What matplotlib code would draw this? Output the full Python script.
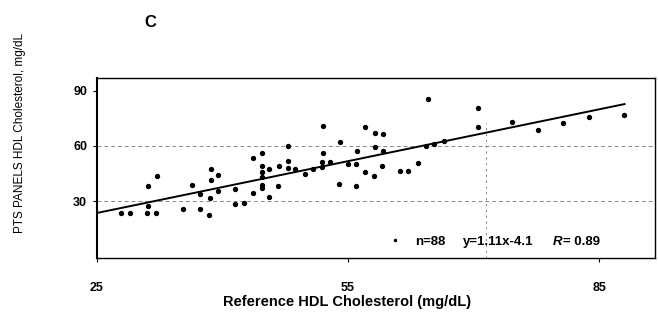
import matplotlib
matplotlib.use("Agg")
import matplotlib.pyplot as plt

plt.rcParams['font.family'] = ['Liberation Sans', 'DejaVu Sans']

# reference vs PTS PANELS HDL cholesterol (mg/dL)
ref_hdl = [27.9, 29.0, 31.1, 32.2, 31.1, 31.0, 32.1, 35.3, 36.4, 37.3,
           37.3, 38.4, 38.5, 38.6, 38.6, 39.5, 39.5, 41.5, 41.5, 42.6,
           43.6, 43.7, 44.7, 44.7, 44.7, 44.7, 44.7, 44.7, 45.6, 45.6,
           46.6, 46.8, 47.8, 47.8, 47.8, 48.7, 49.8, 50.8, 51.9, 51.9,
           52.0, 52.0, 52.9, 54.0, 53.9, 55.0, 56.0, 56.0, 56.1, 57.0,
           57.0, 58.2, 58.2, 58.1, 59.2, 59.2, 59.1, 61.2, 62.1, 63.3,
           64.3, 64.5, 65.3, 66.4, 70.5, 70.5, 74.6, 77.7, 80.7, 83.8,
           87.9]
pts_hdl = [23.6, 23.6, 38.3, 43.6, 27.4, 23.3, 23.6, 25.6, 38.7, 33.7,
           25.6, 22.4, 31.5, 41.5, 47.5, 44.3, 35.5, 36.5, 28.2, 28.7,
           34.2, 53.6, 49.3, 46.0, 43.3, 38.7, 36.9, 56.4, 47.5, 32.3,
           38.3, 49.1, 60.0, 51.8, 48.2, 47.5, 44.6, 47.5, 51.1, 48.7,
           70.9, 56.4, 51.1, 62.4, 39.3, 50.0, 50.0, 38.2, 57.4, 70.2,
           46.0, 66.9, 59.3, 43.8, 66.7, 57.4, 49.1, 46.4, 46.4, 50.6,
           60.0, 85.5, 60.9, 62.7, 80.9, 70.2, 72.9, 68.7, 72.7, 75.7,
           76.9]

# fitted line end points as drawn
fit_x = [25, 88.0]
fit_y = [23.5, 82.8]

x_ticks = [25, 55, 85]
y_ticks = [30, 60, 90]

fig = plt.figure(figsize=(6.58, 3.17), dpi=100)
ax = fig.add_axes([0.147, 0.186, 0.848, 0.568])

ax.scatter(ref_hdl, pts_hdl, s=8, color='black', zorder=3)
ax.plot(fit_x, fit_y, color='black', lw=1.4, zorder=2)

ax.set_xlim(25, 91.6)
ax.set_ylim(-1, 97)
ax.set_xticks(x_ticks)
ax.set_yticks(y_ticks)
ax.tick_params(axis='both', length=3, width=0.8, labelsize=9, pad=4)
for lab in ax.get_xticklabels() + ax.get_yticklabels():
    lab.set_fontweight('bold')
ax.tick_params(axis='x', pad=14)

ax.grid(axis='y', color='#888888', ls=(0, (4, 3)), lw=0.7)
ax.get_ygridlines()[2].set_visible(False)
ax.axvline(71.5, ymin=0.0, ymax=0.75, color='#777777', ls=(0, (2, 4)), lw=0.7)

for side in ['left', 'right', 'top', 'bottom']:
    ax.spines[side].set_linewidth(1.0)
ax.spines['left'].set_linewidth(1.5)

ax.set_xlabel('Reference HDL Cholesterol (mg/dL)', fontsize=10.5,
              fontweight='bold')
ax.xaxis.set_label_coords(0.448, -0.205)
fig.text(0.03, 0.58, 'PTS PANELS HDL Cholesterol, mg/dL', rotation=90,
         fontsize=8.5, ha='center', va='center')
fig.text(0.228, 0.93, 'C', fontsize=12, fontweight='bold',
         ha='center', va='center')

ax.plot([60.6], [8.7], marker='.', ms=3, color='black')
ann_y = 0.089
ax.text(0.570, ann_y, 'n=88', transform=ax.transAxes, fontsize=9.5,
        fontweight='bold', va='center')
ax.text(0.656, ann_y, 'y=1.11x-4.1', transform=ax.transAxes, fontsize=9.5,
        fontweight='bold', va='center')
ax.text(0.817, ann_y, 'R', transform=ax.transAxes, fontsize=9.5,
        fontweight='bold', fontstyle='italic', va='center')
ax.text(0.836, ann_y, '= 0.89', transform=ax.transAxes, fontsize=9.5,
        fontweight='bold', va='center')

fig.savefig('out.png', dpi=100)
